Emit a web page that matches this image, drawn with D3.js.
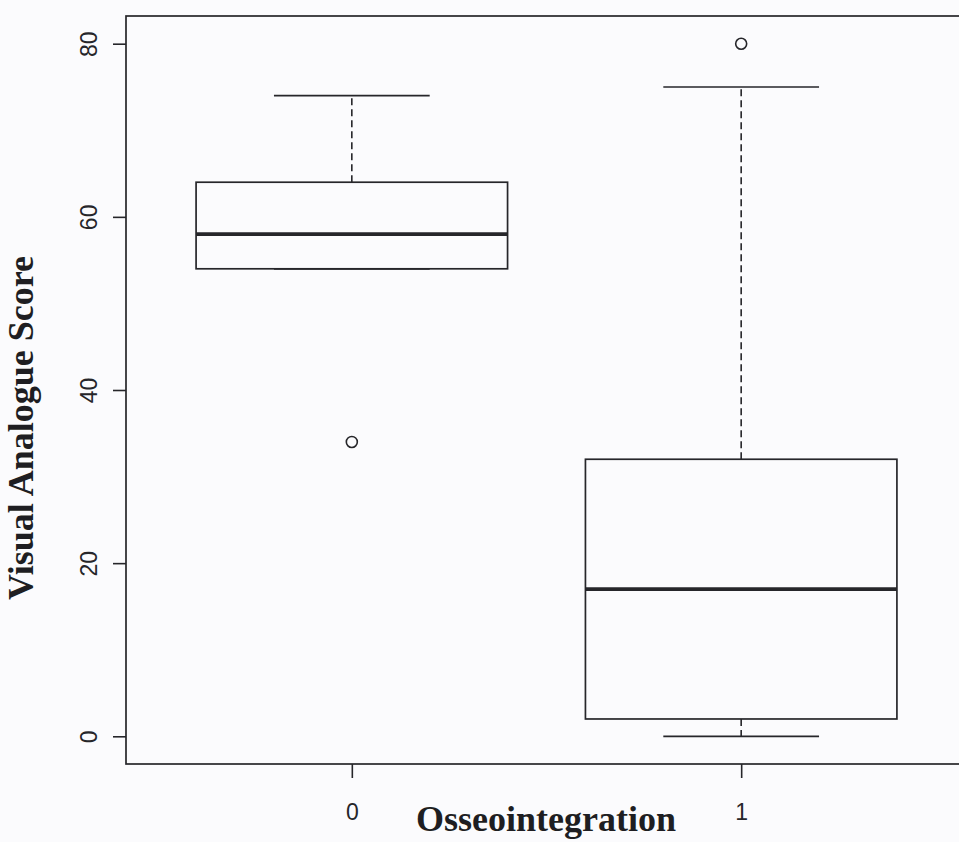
<!DOCTYPE html>
<html>
<head>
<meta charset="utf-8">
<script src="https://cdn.jsdelivr.net/npm/d3@7"></script>
<style>
  html, body { margin: 0; padding: 0; background: #fbfbfd; }
  svg { display: block; }
</style>
</head>
<body>
<div id="chart"></div>
<script>
// box statistics
const groups = ["0", "1"];
const whiskerLow = [54, 0];
const q1 = [54, 2];
const median = [58, 17];
const q3 = [64, 32];
const whiskerHigh = [74, 75];
const outliers = [[34], [80]];
const yTicks = [0, 20, 40, 60, 80];

const width = 959, height = 842;
const ink = "#26262a";

const svg = d3.select("#chart").append("svg")
  .attr("width", width)
  .attr("height", height);

// R style: groups at 1..n, xlim 0.5..n+0.5 padded 4%
const x = d3.scaleLinear().domain([0.42, 2.58]).range([126, 967]);
const y = d3.scaleLinear().domain([-3.2, 83.2]).range([764, 16]);
const boxHalf = 0.4, capHalf = 0.2;

// frame
svg.append("rect")
  .attr("x", x(0.42)).attr("y", y(83.2))
  .attr("width", x(2.58) - x(0.42)).attr("height", y(-3.2) - y(83.2))
  .attr("fill", "none").attr("stroke", ink).attr("stroke-width", 1.7);

// y axis
const yAxis = svg.append("g")
  .attr("transform", `translate(${x(0.42)},0)`)
  .call(d3.axisLeft(y).tickValues(yTicks).tickSize(13).tickFormat(d3.format("d")));
yAxis.select(".domain").remove();
yAxis.selectAll(".tick line").attr("stroke", ink).attr("stroke-width", 1.6);
yAxis.selectAll(".tick text")
  .attr("transform", "rotate(-90)")
  .attr("x", 0).attr("y", -29).attr("dy", null)
  .attr("text-anchor", "middle")
  .attr("font-family", "Liberation Sans, Arial, sans-serif")
  .attr("font-size", 23).attr("fill", ink);

// x axis
const xAxis = svg.append("g")
  .attr("transform", `translate(0,${y(-3.2)})`)
  .call(d3.axisBottom(x).tickValues([1, 2]).tickSize(14).tickFormat((d, i) => groups[i]));
xAxis.select(".domain").remove();
xAxis.selectAll(".tick line").attr("stroke", ink).attr("stroke-width", 1.6);
xAxis.selectAll(".tick text")
  .attr("y", 56).attr("dy", null)
  .attr("font-family", "Liberation Sans, Arial, sans-serif")
  .attr("font-size", 23).attr("fill", ink);

// boxes
const stats = groups.map((g, i) => ({
  pos: i + 1, lo: whiskerLow[i], q1: q1[i], med: median[i], q3: q3[i], hi: whiskerHigh[i], out: outliers[i]
}));

const box = svg.selectAll(".box").data(stats).enter().append("g").attr("class", "box");

// dashed whiskers
box.append("line")
  .attr("x1", d => x(d.pos)).attr("x2", d => x(d.pos))
  .attr("y1", d => y(d.q3)).attr("y2", d => y(d.hi))
  .attr("stroke", ink).attr("stroke-width", 1.6).attr("stroke-dasharray", "7,4");
box.append("line")
  .attr("x1", d => x(d.pos)).attr("x2", d => x(d.pos))
  .attr("y1", d => y(d.q1)).attr("y2", d => y(d.lo))
  .attr("stroke", ink).attr("stroke-width", 1.6).attr("stroke-dasharray", "7,4");

// caps
["hi", "lo"].forEach(k => {
  box.append("line")
    .attr("x1", d => x(d.pos - capHalf)).attr("x2", d => x(d.pos + capHalf))
    .attr("y1", d => y(d[k])).attr("y2", d => y(d[k]))
    .attr("stroke", ink).attr("stroke-width", 1.7);
});

box.append("rect")
  .attr("x", d => x(d.pos - boxHalf))
  .attr("y", d => y(d.q3))
  .attr("width", d => x(d.pos + boxHalf) - x(d.pos - boxHalf))
  .attr("height", d => y(d.q1) - y(d.q3))
  .attr("fill", "none").attr("stroke", ink).attr("stroke-width", 1.7);

box.append("line")
  .attr("x1", d => x(d.pos - boxHalf)).attr("x2", d => x(d.pos + boxHalf))
  .attr("y1", d => y(d.med)).attr("y2", d => y(d.med))
  .attr("stroke", ink).attr("stroke-width", 3.8);

box.selectAll("circle").data(d => d.out.map(v => ({ pos: d.pos, v }))).enter()
  .append("circle")
  .attr("cx", d => x(d.pos)).attr("cy", d => y(d.v)).attr("r", 5.5)
  .attr("fill", "none").attr("stroke", ink).attr("stroke-width", 1.6);

// axis titles
svg.append("text")
  .attr("x", 546).attr("y", 831)
  .attr("text-anchor", "middle")
  .attr("font-family", "Liberation Serif, Times New Roman, serif")
  .attr("font-weight", "bold").attr("font-size", 36).attr("fill", "#1e1e22")
  .text("Osseointegration");

svg.append("text")
  .attr("transform", "translate(33,428) rotate(-90)")
  .attr("text-anchor", "middle")
  .attr("font-family", "Liberation Serif, Times New Roman, serif")
  .attr("font-weight", "bold").attr("font-size", 36).attr("fill", "#1e1e22")
  .text("Visual Analogue Score");
</script>
</body>
</html>
